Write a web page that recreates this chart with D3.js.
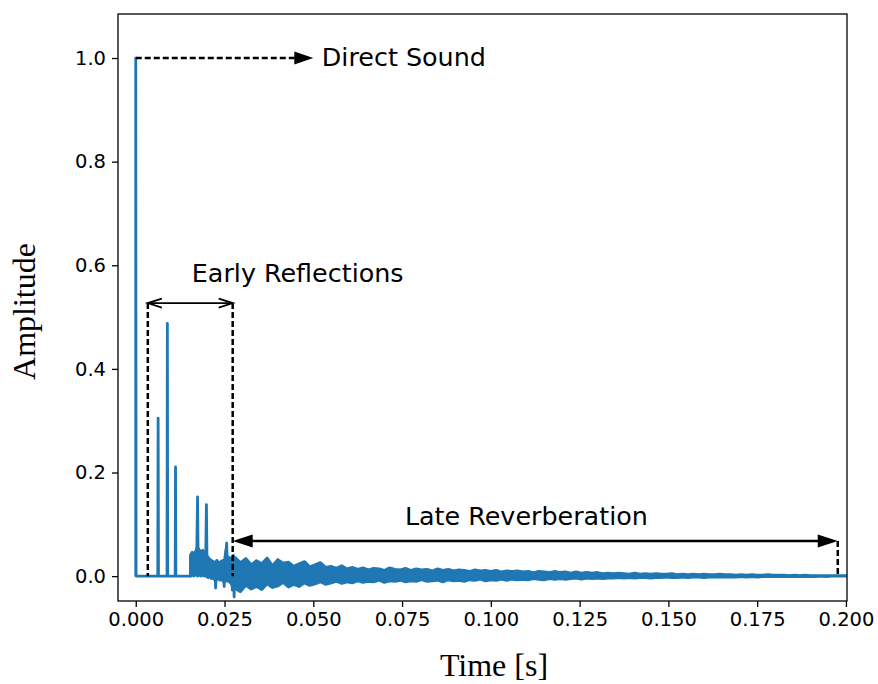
<!DOCTYPE html>
<html>
<head>
<meta charset="utf-8">
<script src="https://cdn.jsdelivr.net/npm/d3@7"></script>
<style>
  body { margin: 0; background: #fff; }
  .tick text { font-family: "DejaVu Sans", sans-serif; font-size: 19.5px; fill: #000; }
  .axis path, .axis line { stroke: #000; stroke-width: 1.3px; }
  .note { font-family: "DejaVu Sans", sans-serif; font-size: 25.4px; fill: #000; }
  .title { font-family: "Liberation Serif", "Times New Roman", serif; font-size: 32px; fill: #000; }
</style>
</head>
<body>
<svg id="chart" width="878" height="684"></svg>
<script>
// tick labels
const xTicks = [0, 0.025, 0.05, 0.075, 0.1, 0.125, 0.15, 0.175, 0.2];
const yTicks = [0, 0.2, 0.4, 0.6, 0.8, 1.0];

// direct sound + early reflections, sample by sample (time [s], amplitude)
const earlyT = [0, 0, 0.0001, 0.0062, 0.0063, 0.0064, 0.0088, 0.0089, 0.0090, 0.0111, 0.0112, 0.0113, 0.0153,
  0.0154, 0.0155, 0.0158, 0.0161, 0.0164, 0.0167, 0.0170, 0.0172, 0.0174, 0.0176, 0.0179, 0.0182, 0.0185,
  0.0188, 0.0191, 0.0194, 0.0197, 0.0199, 0.0201, 0.0204, 0.0207, 0.0210, 0.0213, 0.0216, 0.0219, 0.0222,
  0.0225, 0.0228, 0.0231, 0.0234, 0.0237, 0.0240, 0.0243, 0.0246, 0.0249, 0.0252, 0.0256, 0.0259, 0.0262,
  0.0265, 0.0268, 0.0272, 0.0275, 0.0277, 0.0280];
const earlyA = [0, 1.0, 0, 0, 0.305, 0, 0, 0.488, 0, 0, 0.211, 0, 0,
  0.000, 0.040, 0.005, 0.045, 0.010, 0.038, 0.004, 0.055, 0.153, 0.008, 0.050, 0.006, 0.042,
  0.002, 0.047, 0.010, 0.035, 0.138, 0.005, 0.034, 0.000, 0.030, -0.005, 0.028, 0.002, 0.025,
  -0.023, 0.030, 0.000, 0.022, -0.008, 0.026, -0.004, 0.030, -0.020, 0.028, 0.064, -0.006, 0.035,
  -0.012, 0.030, -0.027, 0.040, -0.040, 0.034];

// dense cluster under the early reflections: extent every 0.5 ms from 15.4 ms
const clusterStart = 0.0154;
const clusterStep = 0.0005;
const clusterHi = [0.040, 0.046, 0.042, 0.048, 0.056, 0.050, 0.046, 0.050, 0.042, 0.040,
  0.036, 0.032, 0.030, 0.028, 0.026, 0.030, 0.024, 0.028, 0.030, 0.026,
  0.050, 0.030, 0.036, 0.030, 0.038, 0.034];
const clusterLo = [0.000, 0.002, 0.000, 0.004, 0.000, 0.002, 0.000, 0.003, 0.000, 0.000,
  -0.003, 0.000, -0.004, -0.002, -0.010, -0.005, -0.006, -0.003, -0.008, -0.012,
  -0.006, -0.010, -0.008, -0.015, -0.020, -0.024];

// late reverberation: upper / lower extent of the dense tail, every 1.5 ms from 28 ms
const tailStart = 0.028;
const tailStep = 0.0015;
const tailHi = [0.036, 0.026, 0.034, 0.022, 0.030, 0.024, 0.035, 0.020, 0.032, 0.025,
  0.027, 0.019, 0.024, 0.028, 0.018, 0.022, 0.026, 0.017, 0.019, 0.015,
  0.020, 0.014, 0.017, 0.013, 0.016, 0.012, 0.015, 0.014, 0.011, 0.016,
  0.013, 0.012, 0.015, 0.011, 0.014, 0.012, 0.013, 0.010, 0.014, 0.011,
  0.013, 0.010, 0.012, 0.011, 0.009, 0.012, 0.010, 0.011, 0.009, 0.011,
  0.008, 0.010, 0.009, 0.010, 0.008, 0.009, 0.007, 0.009, 0.008, 0.007,
  0.009, 0.007, 0.008, 0.006, 0.008, 0.006, 0.007, 0.006, 0.007, 0.005,
  0.006, 0.005, 0.006, 0.005, 0.004, 0.006, 0.004, 0.005, 0.004, 0.005,
  0.004, 0.004, 0.005, 0.003, 0.004, 0.003, 0.004, 0.003, 0.004, 0.003,
  0.003, 0.004, 0.003, 0.003, 0.002, 0.003, 0.002, 0.003, 0.002, 0.002,
  0.003, 0.002, 0.002, 0.002, 0.001, 0.002, 0.001, 0.002, 0.001, 0.001,
  0.001, 0.001, 0.001, 0.001, 0.001, 0.001];
const tailLo = [-0.024, -0.030, -0.018, -0.025, -0.020, -0.026, -0.015, -0.022, -0.019, -0.012,
  -0.021, -0.016, -0.020, -0.013, -0.018, -0.015, -0.011, -0.016, -0.013, -0.010,
  -0.014, -0.011, -0.013, -0.009, -0.012, -0.010, -0.011, -0.008, -0.012, -0.009,
  -0.010, -0.008, -0.011, -0.009, -0.010, -0.007, -0.010, -0.009, -0.008, -0.011,
  -0.007, -0.009, -0.008, -0.010, -0.007, -0.008, -0.006, -0.009, -0.007, -0.008,
  -0.006, -0.008, -0.006, -0.007, -0.006, -0.007, -0.005, -0.006, -0.007, -0.005,
  -0.006, -0.005, -0.006, -0.005, -0.004, -0.006, -0.004, -0.005, -0.004, -0.005,
  -0.004, -0.004, -0.003, -0.004, -0.003, -0.004, -0.003, -0.003, -0.004, -0.003,
  -0.003, -0.002, -0.003, -0.003, -0.002, -0.003, -0.002, -0.002, -0.003, -0.002,
  -0.002, -0.002, -0.002, -0.002, -0.002, -0.001, -0.002, -0.001, -0.002, -0.001,
  -0.001, -0.001, -0.001, -0.001, -0.001, -0.001, -0.001, -0.001, -0.001, -0.001,
  0.000, -0.001, 0.000, 0.000, 0.000, 0.000];

const svg = d3.select('#chart');
const margin = { left: 118, right: 847, top: 14, bottom: 601 };
const blue = '#1f77b4';

const x = d3.scaleLinear().domain([-0.005, 0.2003]).range([margin.left, margin.right]);
const y = d3.scaleLinear().domain([-0.048, 1.085]).range([margin.bottom, margin.top]);

svg.append('defs').append('clipPath').attr('id', 'clip')
  .append('rect')
  .attr('x', margin.left).attr('y', margin.top)
  .attr('width', margin.right - margin.left).attr('height', margin.bottom - margin.top);

const plot = svg.append('g').attr('clip-path', 'url(#clip)');

const band = d3.area().x(d => x(d.t)).y0(d => y(d.lo)).y1(d => y(d.hi));

// dense bands (cluster + tail)
const cluster = clusterHi.map((h, i) => ({ t: clusterStart + i * clusterStep, hi: h, lo: clusterLo[i] }));
const tail = tailHi.map((h, i) => ({ t: tailStart + i * tailStep, hi: h, lo: tailLo[i] }));
[cluster, tail].forEach(rows => {
  plot.append('path')
    .datum(rows)
    .attr('fill', blue)
    .attr('stroke', blue)
    .attr('stroke-width', 2.8)
    .attr('stroke-linejoin', 'round')
    .attr('d', band);
});

// early part
const early = earlyT.map((t, i) => [t, earlyA[i]]);
plot.append('path')
  .datum(early)
  .attr('fill', 'none')
  .attr('stroke', blue)
  .attr('stroke-width', 2.8)
  .attr('stroke-linejoin', 'round')
  .attr('d', d3.line().x(d => x(d[0])).y(d => y(d[1])));

// axes
svg.append('g')
  .attr('class', 'axis')
  .attr('transform', `translate(0,${margin.bottom})`)
  .call(d3.axisBottom(x).tickValues(xTicks).tickFormat(d3.format('.3f')).tickSize(6).tickPadding(5));

svg.append('g')
  .attr('class', 'axis')
  .attr('transform', `translate(${margin.left},0)`)
  .call(d3.axisLeft(y).tickValues(yTicks).tickFormat(d3.format('.1f')).tickSize(6).tickPadding(6));

svg.selectAll('.axis .domain').remove();
svg.append('rect')
  .attr('x', margin.left).attr('y', margin.top)
  .attr('width', margin.right - margin.left).attr('height', margin.bottom - margin.top)
  .attr('fill', 'none').attr('stroke', '#000').attr('stroke-width', 1.3);

// arrow heads
function head(g, tipX, tipY, dir, len, half, filled) {
  const bx = tipX - dir * len;
  if (filled) {
    g.append('path')
      .attr('d', `M${tipX},${tipY}L${bx},${tipY - half}L${bx},${tipY + half}Z`)
      .attr('fill', '#000');
  } else {
    g.append('path')
      .attr('d', `M${bx},${tipY - half}L${tipX},${tipY}L${bx},${tipY + half}`)
      .attr('fill', 'none').attr('stroke', '#000').attr('stroke-width', 1.8);
  }
}

const notes = svg.append('g');

// Direct Sound
notes.append('line')
  .attr('x1', x(0)).attr('x2', x(0.05) - 16)
  .attr('y1', y(1.0)).attr('y2', y(1.0))
  .attr('stroke', '#000').attr('stroke-width', 2.5).attr('stroke-dasharray', '6,3');
head(notes, x(0.05), y(1.0), 1, 19, 6.5, true);
notes.append('text').attr('class', 'note')
  .attr('x', x(0.0524)).attr('y', y(1.0) - 1)
  .attr('dominant-baseline', 'central')
  .text('Direct Sound');

// Early Reflections
const erY = y(0.527);
[0.0034, 0.0273].forEach(t => {
  notes.append('line')
    .attr('x1', x(t)).attr('x2', x(t))
    .attr('y1', erY).attr('y2', y(0))
    .attr('stroke', '#000').attr('stroke-width', 2.5).attr('stroke-dasharray', '6,3');
});
notes.append('line')
  .attr('x1', x(0.0034)).attr('x2', x(0.0273))
  .attr('y1', erY).attr('y2', erY)
  .attr('stroke', '#000').attr('stroke-width', 1.6);
head(notes, x(0.0034), erY, -1, 14, 4.5, false);
head(notes, x(0.0273), erY, 1, 14, 4.5, false);
notes.append('text').attr('class', 'note')
  .attr('x', x(0.0456)).attr('y', y(0.585))
  .attr('text-anchor', 'middle').attr('dominant-baseline', 'central')
  .text('Early Reflections');

// Late Reverberation
const lrY = y(0.0676);
notes.append('line')
  .attr('x1', x(0.1977)).attr('x2', x(0.1977))
  .attr('y1', lrY).attr('y2', y(0))
  .attr('stroke', '#000').attr('stroke-width', 2.5).attr('stroke-dasharray', '6,3');
notes.append('line')
  .attr('x1', x(0.0273) + 14).attr('x2', x(0.1977) - 14)
  .attr('y1', lrY).attr('y2', lrY)
  .attr('stroke', '#000').attr('stroke-width', 2.5);
head(notes, x(0.0273), lrY, -1, 20, 6.5, true);
head(notes, x(0.1977), lrY, 1, 20, 6.5, true);
notes.append('text').attr('class', 'note')
  .attr('x', x(0.110)).attr('y', y(0.1157))
  .attr('text-anchor', 'middle').attr('dominant-baseline', 'central')
  .text('Late Reverberation');

// axis titles
svg.append('text').attr('class', 'title')
  .attr('x', 494).attr('y', 676)
  .attr('text-anchor', 'middle')
  .text('Time [s]');

svg.append('text').attr('class', 'title')
  .attr('transform', `translate(35,${(margin.top + margin.bottom) / 2 + 4})rotate(-90)`)
  .attr('text-anchor', 'middle')
  .text('Amplitude');
</script>
</body>
</html>
